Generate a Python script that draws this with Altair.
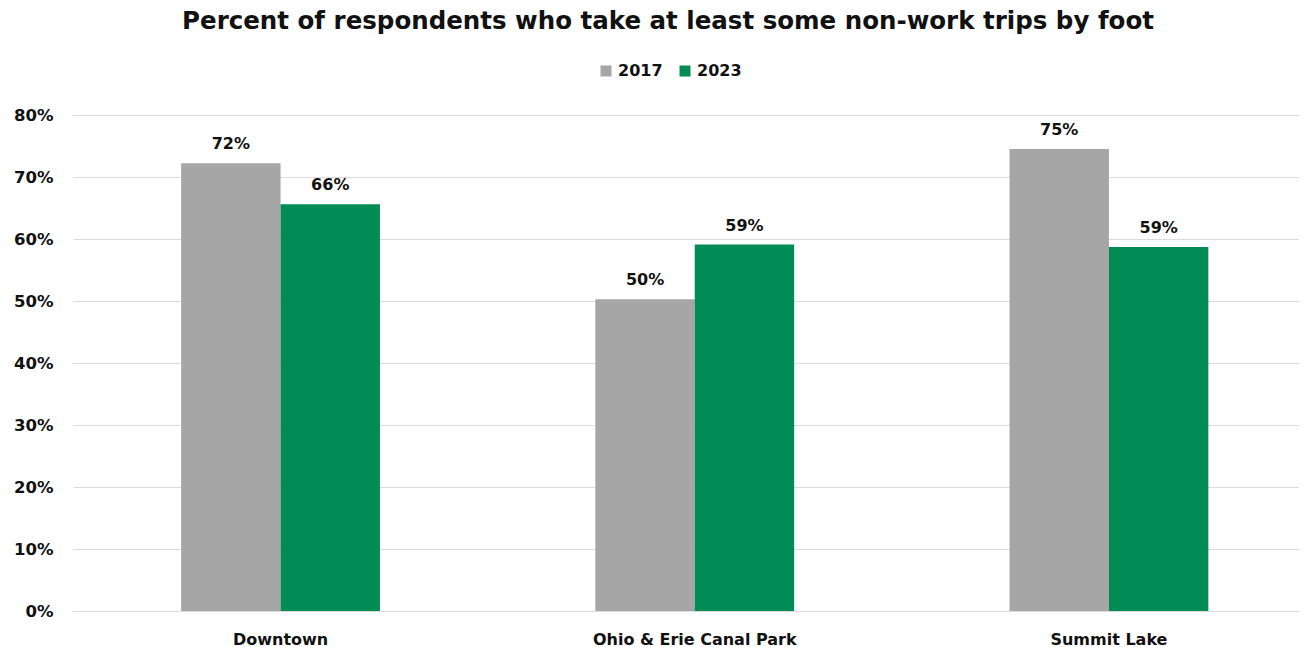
import altair as alt
import pandas as pd

categories = ["Downtown", "Ohio & Erie Canal Park", "Summit Lake"]
years = ["2017", "2023"]
values_2017 = [0.722, 0.503, 0.745]
values_2023 = [0.656, 0.591, 0.587]
labels_2017 = ["72%", "50%", "75%"]
labels_2023 = ["66%", "59%", "59%"]

rows = []
for i, c in enumerate(categories):
    rows.append({"area": c, "year": "2017", "value": values_2017[i], "label": labels_2017[i]})
    rows.append({"area": c, "year": "2023", "value": values_2023[i], "label": labels_2023[i]})
df = pd.DataFrame(rows)

FONT = "DejaVu Sans"
INK = "#111111"

x = alt.X("area:N", sort=categories, title=None,
          scale=alt.Scale(paddingInner=0.52, paddingOuter=0.24, align=0.544),
          axis=alt.Axis(labelAngle=0, labelFontSize=16, labelFontWeight="bold",
                        labelColor=INK, labelFont=FONT, ticks=False, labelLimit=400,
                        domain=False, labelPadding=20))
y = alt.Y("value:Q", title=None,
          scale=alt.Scale(domain=[0, 0.8]),
          axis=alt.Axis(format=".0%", values=[0, .1, .2, .3, .4, .5, .6, .7, .8],
                        labelFontSize=16.5, labelFontWeight="bold", labelColor=INK,
                        labelFont=FONT, ticks=False, domain=False, labelPadding=20,
                        gridColor="#dcdcdc", gridWidth=1.2))
color = alt.Color("year:N", scale=alt.Scale(domain=years, range=["#a6a6a6", "#008c54"]),
                  legend=alt.Legend(title=None, orient="none", direction="horizontal",
                                    legendX=525, legendY=-52, symbolType="square",
                                    symbolSize=121, symbolStrokeWidth=0, labelFontSize=16,
                                    labelFontWeight="bold", labelFont=FONT,
                                    labelColor=INK, columnPadding=14, labelOffset=4))

base = alt.Chart(df).encode(
    x=x, xOffset=alt.XOffset("year:N", sort=years, scale=alt.Scale(paddingInner=0, paddingOuter=0))
)
bars = base.mark_bar().encode(y=y, color=color)
text = base.mark_text(dy=-14, baseline="alphabetic", fontSize=16, fontWeight="bold",
                      font=FONT, color=INK).encode(y=y, text="label:N")

chart = (bars + text).properties(
    width=1226, height=496,
    autosize=alt.AutoSizeParams(type="none"),
    padding={"left": 65, "top": 107, "right": 0, "bottom": 36},
    title=alt.TitleParams("Percent of respondents who take at least some non-work trips by foot",
                          fontSize=24.5, fontWeight="bold", font=FONT, color=INK,
                          anchor="middle", dx=-18, offset=10, baseline="alphabetic"),
).configure_view(stroke=None).configure_axisX(grid=False)

chart.save("out.html", embed_options={"renderer": "svg", "actions": False})
